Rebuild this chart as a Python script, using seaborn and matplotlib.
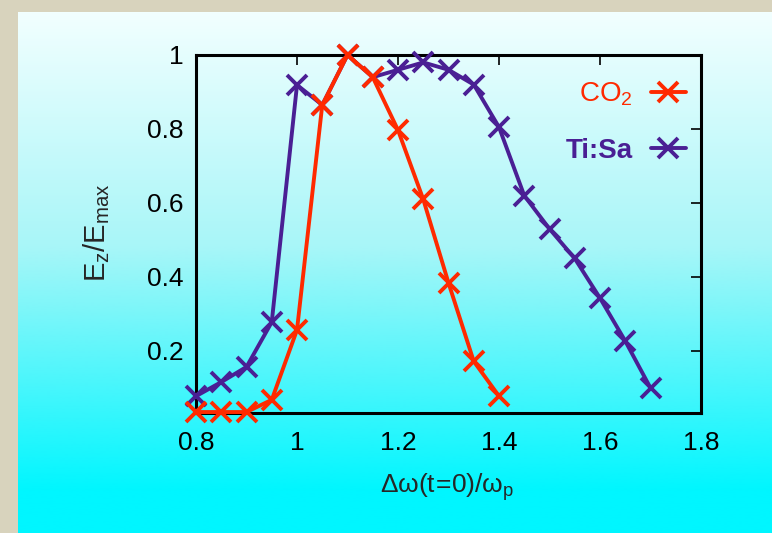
import numpy as np
import pandas as pd
import matplotlib
matplotlib.use("Agg")
import matplotlib.pyplot as plt
import seaborn as sns
from matplotlib.colors import LinearSegmentedColormap
from matplotlib.lines import Line2D

# ---- data ----
co2_x = [0.80, 0.85, 0.90, 0.95, 1.00, 1.05, 1.10, 1.15, 1.20, 1.25, 1.30, 1.35, 1.40]
co2_y = [0.035, 0.035, 0.035, 0.068, 0.257, 0.865, 1.000, 0.940, 0.797, 0.610, 0.384, 0.172, 0.078]
tisa_x = [0.80, 0.85, 0.90, 0.95, 1.00, 1.05, 1.10, 1.15, 1.20, 1.25, 1.30, 1.35, 1.40,
          1.45, 1.50, 1.55, 1.60, 1.65, 1.70]
tisa_y = [0.078, 0.116, 0.157, 0.278, 0.919, 0.865, 1.000, 0.940, 0.960, 0.980, 0.960, 0.920, 0.805,
          0.620, 0.530, 0.450, 0.343, 0.227, 0.100]
series_names = ["CO$_2$", "Ti:Sa"]
x_ticks = [0.8, 1.0, 1.2, 1.4, 1.6, 1.8]
x_ticklabels = ["0.8", "1", "1.2", "1.4", "1.6", "1.8"]
y_ticks = [0.2, 0.4, 0.6, 0.8, 1.0]
y_ticklabels = ["0.2", "0.4", "0.6", "0.8", "1"]

sns.set_theme(style="white")
plt.rcParams['font.family'] = ['Liberation Sans', 'DejaVu Sans']
plt.rcParams['mathtext.fontset'] = 'custom'
plt.rcParams['mathtext.rm'] = 'Liberation Sans'
plt.rcParams['mathtext.it'] = 'Liberation Sans'
plt.rcParams['mathtext.bf'] = 'Liberation Sans:bold'

RED = "#ff2a00"
PURPLE = "#4a1f94"

W, H = 772, 533
fig = plt.figure(figsize=(W / 100, H / 100), dpi=100)
fig.patch.set_facecolor("#d8d3bd")

# gradient background panel
bg = fig.add_axes([18 / W, 0, 1 - 18 / W, (H - 12) / H], zorder=0)
cmap = LinearSegmentedColormap.from_list("g", [(0.0, "#f2ffff"), (0.45, "#a8f6f8"), (0.92, "#00f6ff"), (1.0, "#00f6ff")])
grad = np.linspace(0, 1, 256).reshape(-1, 1)
bg.imshow(grad, aspect="auto", cmap=cmap, extent=[0, 1, 1, 0])
bg.set_axis_off()

ax = fig.add_axes([196 / W, (H - 413) / H, (701 - 196) / W, (413 - 55) / H], zorder=1)
ax.patch.set_alpha(0)

style = dict(marker="x", markersize=14, markeredgewidth=2.8, linewidth=2.8, clip_on=False)
df_t = pd.DataFrame({"x": tisa_x, "y": tisa_y})
df_c = pd.DataFrame({"x": co2_x, "y": co2_y})
sns.lineplot(data=df_t, x="x", y="y", ax=ax, color=PURPLE, markeredgecolor=PURPLE, zorder=3, **style)
sns.lineplot(data=df_c, x="x", y="y", ax=ax, color=RED, markeredgecolor=RED, zorder=4, **style)

ax.set_xlim(0.8, 1.8)
ax.set_ylim(0.0324, 1.0)
ax.set_xticks(x_ticks)
ax.set_xticklabels(x_ticklabels)
ax.set_yticks(y_ticks)
ax.set_yticklabels(y_ticklabels)
ax.tick_params(direction="in", length=7, width=1.2, top=True, right=True, labelsize=19,
               colors="black")
ax.tick_params(axis="x", pad=13)
ax.tick_params(axis="y", pad=9)
for s in ax.spines.values():
    s.set_color("black")
    s.set_linewidth(2.2)
    s.set_visible(True)

ax.set_xlabel(r"$\mathrm{\Delta\omega(t\!=\!0)/\omega_p}$", fontsize=19)
ax.xaxis.label.set_va("center")
ax.xaxis.set_label_coords((447 - 196) / 505, (413 - 487) / 358)
ax.set_ylabel(r"$\mathrm{E_z/E_{max}}$", fontsize=21)
ax.yaxis.label.set_va("center")
ax.yaxis.set_label_coords((97 - 196) / 505, (413 - 233) / 358)

handles = [Line2D([], [], color=RED, marker="x", markersize=14, markeredgewidth=2.8, linewidth=2.8),
           Line2D([], [], color=PURPLE, marker="x", markersize=14, markeredgewidth=2.8, linewidth=2.8)]
leg = ax.legend(handles, series_names, loc="upper right", markerfirst=False, frameon=False,
                fontsize=20, handlelength=1.26, handletextpad=0.65, labelspacing=1.07,
                borderpad=0, borderaxespad=0, bbox_to_anchor=(0.970, 0.928))
texts = leg.get_texts()
texts[0].set_color(RED)
texts[1].set_color(PURPLE)
texts[1].set_fontweight("bold")

fig.savefig("out.png", dpi=100, facecolor=fig.get_facecolor())
